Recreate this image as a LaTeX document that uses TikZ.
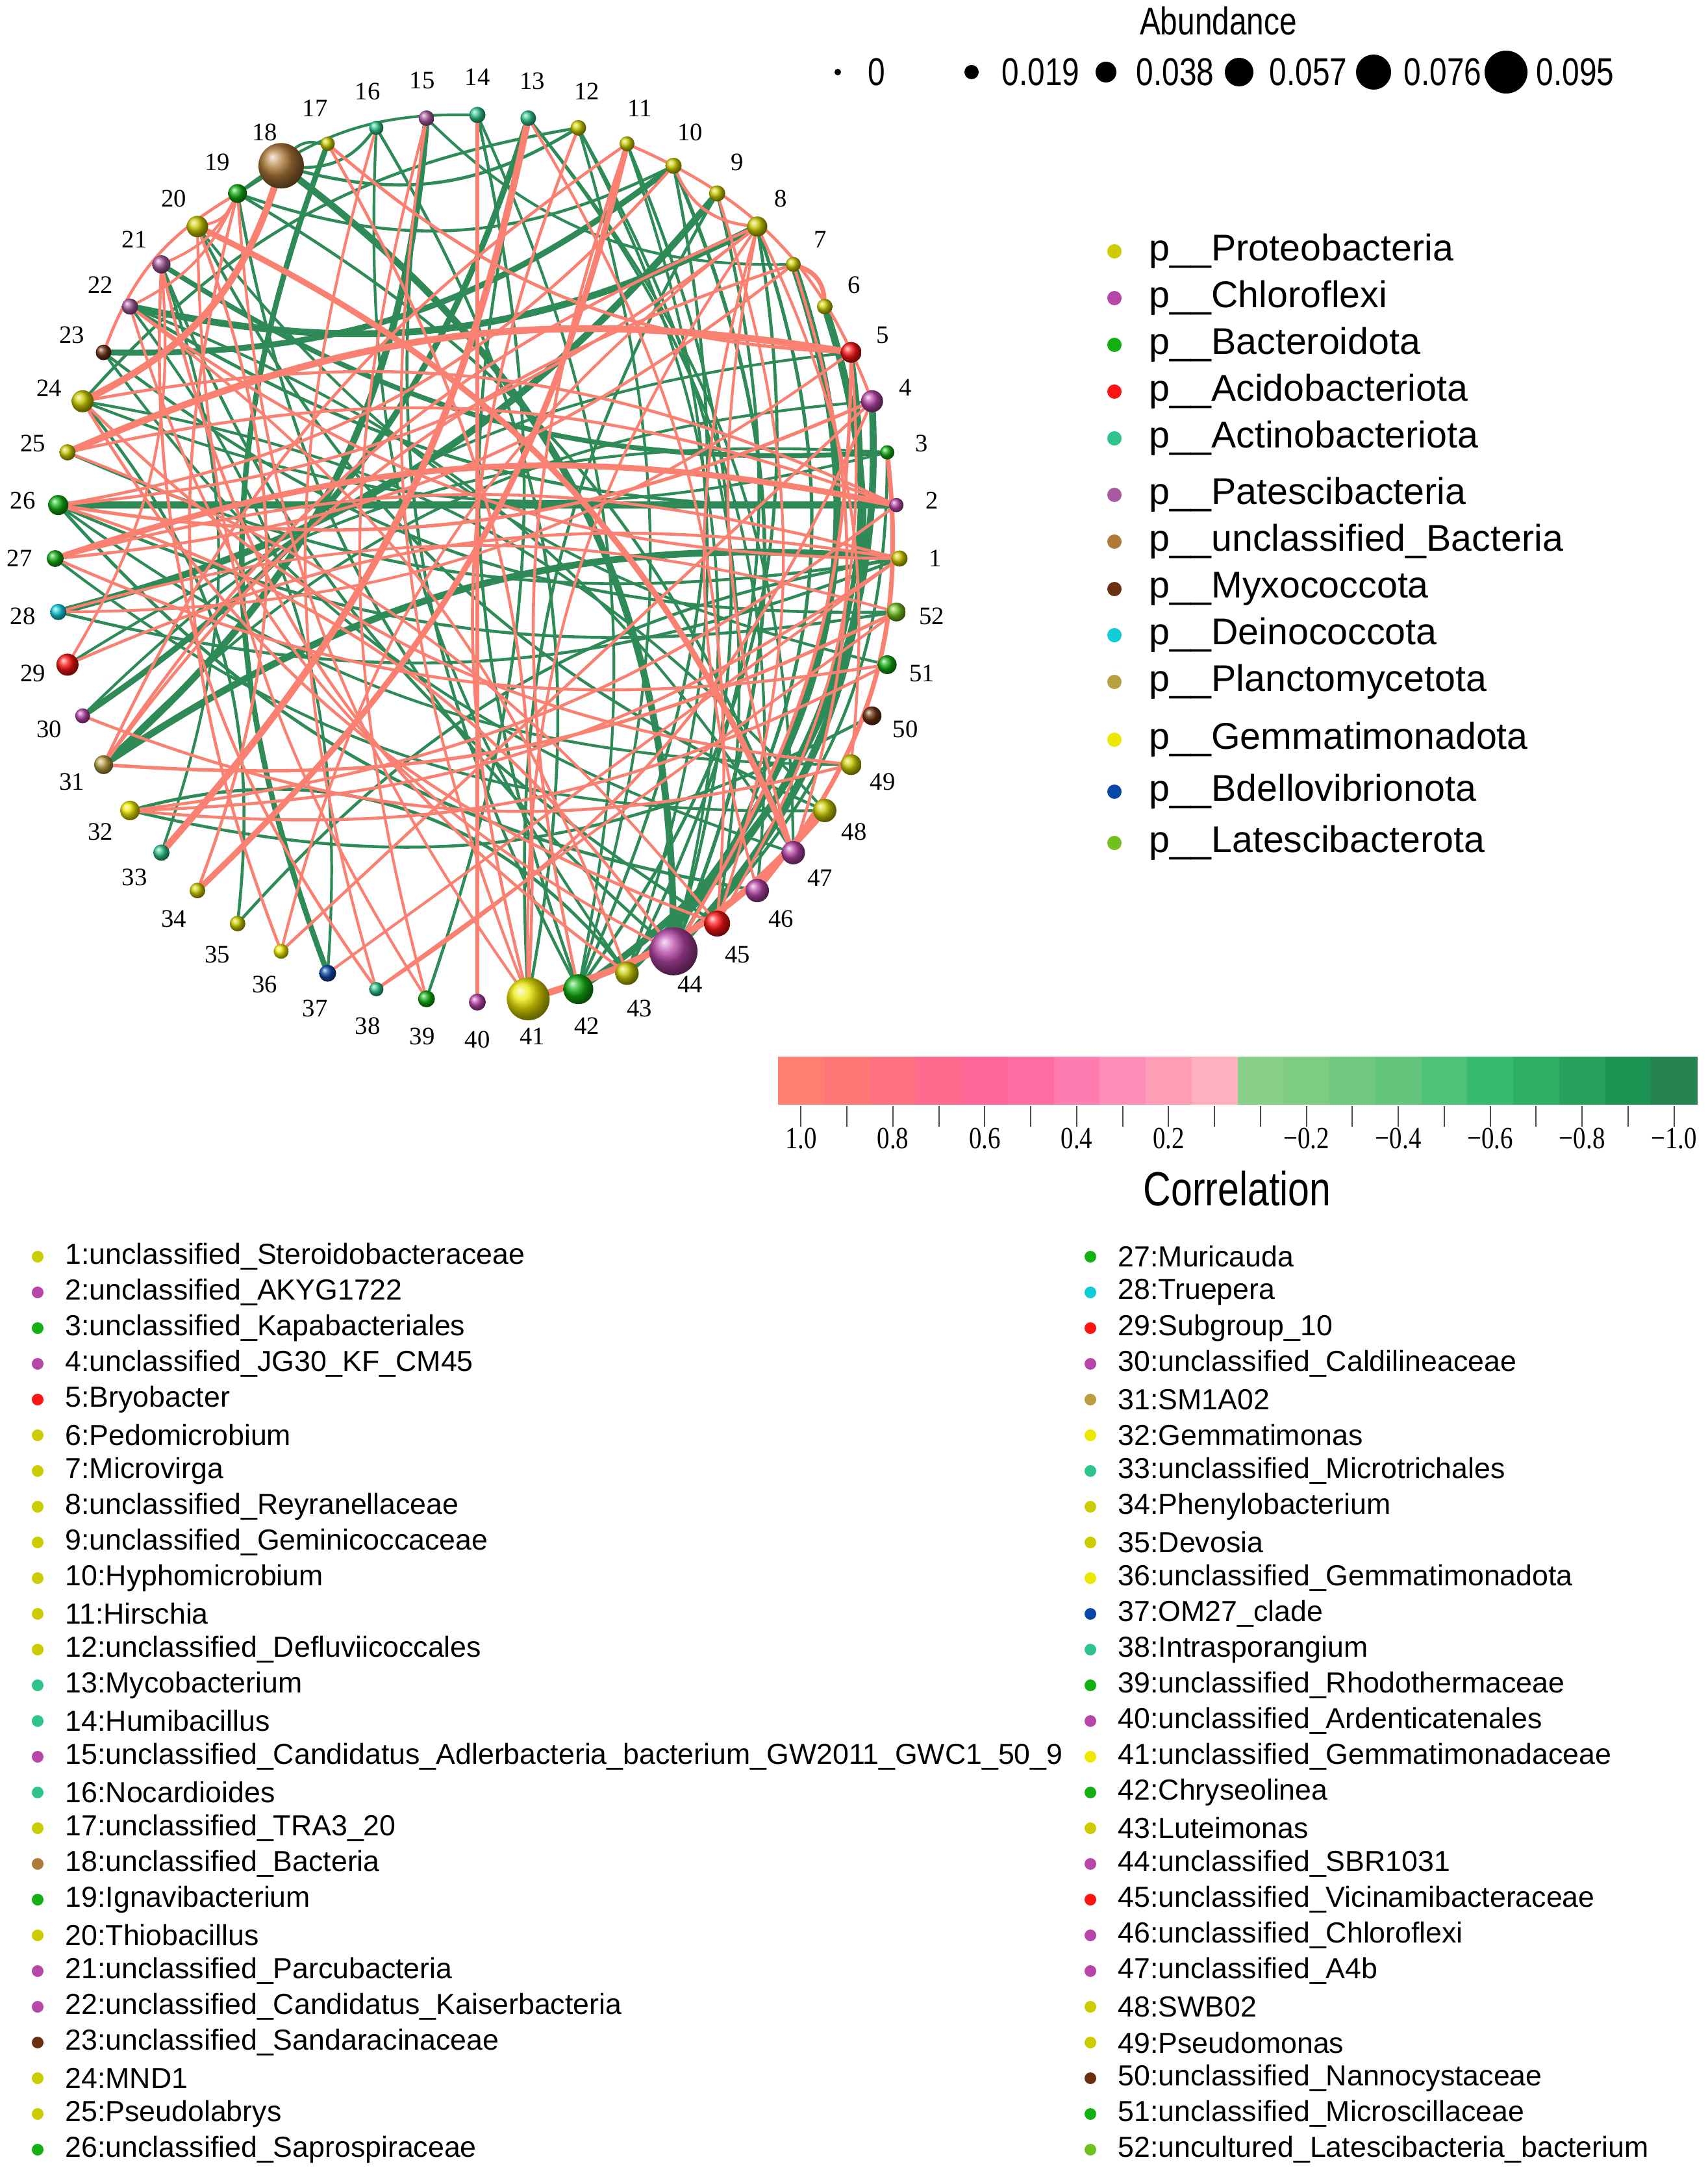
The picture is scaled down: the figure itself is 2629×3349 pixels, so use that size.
\documentclass[tikz,border=0pt]{standalone}
\usepackage{fontspec}
\setmainfont{Liberation Sans}
\newfontfamily\numfont{Liberation Serif}
\newfontfamily\narrowsans[FakeStretch=0.8]{Liberation Sans}
\newfontfamily\narrowserif[FakeStretch=0.82]{Liberation Serif}
\pgfdeclarelayer{edges}
\pgfsetlayers{edges,main}
\definecolor{proteo}{HTML}{CCCC00}
\definecolor{chloro}{HTML}{B845A8}
\definecolor{bactero}{HTML}{12B012}
\definecolor{acido}{HTML}{FF1414}
\definecolor{actino}{HTML}{2FC48C}
\definecolor{patesc}{HTML}{A85AA0}
\definecolor{unclbac}{HTML}{B07A38}
\definecolor{myxo}{HTML}{6A3010}
\definecolor{deino}{HTML}{10CCD8}
\definecolor{plancto}{HTML}{B8A040}
\definecolor{gemma}{HTML}{EEE800}
\definecolor{bdello}{HTML}{0A48A8}
\definecolor{latesc}{HTML}{72C020}
\definecolor{posline}{HTML}{FA8072}
\definecolor{negline}{HTML}{2E8B57}
\begin{document}
\begin{tikzpicture}[x=0.01cm,y=-0.01cm,
  taxon/.style={circle,inner sep=0pt},
  numlab/.style={inner sep=0pt,font=\numfont\fontsize{11}{11}\selectfont},
  posedge/.style={draw=posline,line cap=round},
  negedge/.style={draw=negline,line cap=round},
  listdot/.style={circle,inner sep=0pt,minimum size=0.18cm},
  listtxt/.style={anchor=west,inner sep=0pt,font=\fontsize{12.7}{14}\selectfont},
  legdot/.style={circle,inner sep=0pt,minimum size=0.22cm},
  legtxt/.style={anchor=west,inner sep=0pt,font=\fontsize{16.3}{18}\selectfont},
  sizedot/.style={circle,fill=black,inner sep=0pt},
  sizetxt/.style={anchor=west,inner sep=0pt,font=\narrowsans\fontsize{17}{18}\selectfont},
  ticklab/.style={inner sep=0pt,font=\narrowserif\fontsize{13.5}{14}\selectfont}]
\useasboundingbox (0,0) rectangle (2629,3349);

\foreach \i/\col/\rad in {1/proteo/12.5,2/chloro/11,3/bactero/11,4/chloro/17,5/acido/16,
  6/proteo/12,7/proteo/11.5,8/proteo/15.5,9/proteo/12.5,10/proteo/12.5,11/proteo/11.5,
  12/proteo/12,13/actino/12,14/actino/12.5,15/patesc/12,16/actino/11,17/proteo/11,
  18/unclbac/35,19/bactero/14.5,20/proteo/16.5,21/patesc/14,22/patesc/12.5,23/myxo/12,
  24/proteo/17,25/proteo/12.5,26/bactero/15.5,27/bactero/13,28/deino/12.5,29/acido/17,
  30/chloro/11.5,31/plancto/14.5,32/gemma/15,33/actino/12.5,34/proteo/12,35/proteo/12,
  36/gemma/11.5,37/bdello/13,38/actino/11,39/bactero/13,40/chloro/13,41/gemma/33,
  42/bactero/23,43/proteo/18,44/chloro/37,45/acido/20,46/chloro/18,47/chloro/18,
  48/proteo/18,49/proteo/16,50/myxo/14.5,51/bactero/14.5,52/latesc/14.5}{
  \pgfmathsetmacro\ang{(\i-1)*6.9230769}
  \pgfmathsetmacro\dia{0.02*\rad}
  \pgfmathsetmacro\px{735+650*cos(\ang)}
  \pgfmathsetmacro\py{860-683*sin(\ang)}
  \pgfmathsetmacro\lx{735+705*cos(\ang)}
  \pgfmathsetmacro\ly{860-741*sin(\ang)}
  \node[taxon,ball color=\col,minimum size=\dia cm] (n\i) at (\px,\py) {};
  \node[numlab] (lab\i) at (\lx,\ly) {\i};
}

\begin{pgfonlayer}{edges}
\foreach \src/\dst/\wd/\bnd in {7/43/3.2/28,6/44/3.2/26,4/42/3/24,5/43/2.2/22,8/42/1.4/15,
  26/2/3.2/0,22/8/3/-10,23/10/2.6/-10,21/3/2.2/-8,31/1/3/10,28/9/3/-8,30/13/2.6/-10,
  15/31/3/14,17/37/2.4/-12,18/44/3/20,18/16/1.3/-20,17/18/1.2/-20,19/18/1.4/0,
  12/18/1.4/15,10/19/1.3/15,12/44/1.2/12,12/45/1.2/10,13/47/1.2/10,13/46/1.2/14,
  12/42/1.2/6,10/42/1.3/8,9/41/1.3/-6,14/19/1.2/-10,14/42/1.2/8,15/7/1.2/-15,
  16/43/1.2/-10,11/43/1.2/10,24/12/1.3/10,25/1/1.3/-6,26/52/1.3/-6,26/49/1.2/-8,
  26/46/1.4/-10,27/48/1.2/-10,29/3/1.2/8,32/43/1.4/30,35/24/1.3/-15,35/1/1.3/10,
  33/21/1.2/-10,39/14/1.3/-5,42/15/1.3/8,42/13/1.3/6,47/19/1.3/-10,47/22/1.2/-8,
  48/24/1.2/-10,50/32/1.3/12,52/23/1.3/10,3/44/1.3/15,5/30/1.2/-10,4/31/1.2/-12,
  1/28/1.3/8,20/48/1.3/-10,21/45/1.3/-8,22/2/1.4/-6,24/3/1.2/-8,19/44/1.3/-10,
  16/41/1.3/12,10/44/1.6/15,8/44/1.5/18,9/43/1.3/12,11/44/1.3/10,23/47/1.2/-8,
  20/51/1.2/-10,37/22/1.2/-12}{
  \pgfmathsetmacro\bb{\bnd==0 ? 0 : sign(\bnd)*(abs(\bnd)*0.7+12)}
  \draw[negedge,line width=\wd pt] (n\src) to[bend left=\bb] (n\dst);
}
\foreach \src/\dst/\wd/\bnd in {14/40/1.8/0,25/5/3/6,27/2/2.6/4,18/24/3/15,41/48/3/-5,
  33/13/3/-4,11/34/2.6/6,20/47/2.6/12,19/20/1.2/20,21/19/1.2/-10,22/19/1.2/-10,
  7/6/2/30,10/8/1.3/-25,11/4/1.3/15,8/46/1.2/-5,8/47/1.2/-3,8/49/1.2/5,8/41/1.2/-8,
  8/36/1.2/-10,5/45/1.2/8,5/44/1.5/5,9/45/1.2/8,11/42/1.3/-5,12/41/1.3/-8,
  1/27/1.3/-4,1/29/1.3/-6,52/28/1.2/-5,2/25/1.3/-6,3/46/2/15,1/22/1.3/8,2/24/1.3/-8,
  26/10/1.3/-10,26/4/1.5/-6,23/19/1.3/10,24/45/1.3/-10,24/49/1.3/-10,22/44/1.2/-15,
  21/43/1.3/-12,21/38/1.3/-10,20/39/1.2/-5,19/36/1.3/-8,19/41/1.2/-5,17/5/1.4/-10,
  15/39/1.2/-4,31/7/1.3/8,31/8/1.3/6,31/11/1.3/4,31/52/1.5/-4,32/1/1.3/-6,
  32/2/1.3/-4,32/51/1.3/-6,34/20/1.3/-12,36/4/1.3/0,37/1/1.2/0,38/52/1.2/0,
  41/17/1.3/-6,43/22/1.2/-6,45/25/1.2/-4,47/7/1.3/-8,49/30/1.3/8,51/27/1.3/6,
  13/45/1.2/8,29/21/1.2/-8,44/26/1.3/-8,27/7/1.3/-6,28/5/1.2/-8,26/8/1.3/-6,
  16/38/1.2/-6,4/38/1.3/6,15/41/1.2/-4}{
  \pgfmathsetmacro\bb{\bnd==0 ? 0 : sign(\bnd)*(abs(\bnd)*0.7+12)}
  \draw[posedge,line width=\wd pt] (n\src) to[bend left=\bb] (n\dst);
}
\end{pgfonlayer}

\node[inner sep=0pt,font=\narrowsans\fontsize{17}{18}\selectfont] (abtitle) at (1876,32) {Abundance};
\foreach \x/\dd/\v [count=\k] in {1290/0.10/0,1496/0.22/0.019,1703/0.32/0.038,1908/0.44/0.057,2115/0.54/0.076,2319/0.66/0.095}{
  \node[sizedot,minimum size=\dd cm] (ab\k) at (\x,111) {};
  \node[sizetxt] (abv\k) at ({\x+46},111) {\v};
}

\foreach \y/\col/\name [count=\k] in {387/proteo/Proteobacteria,459/chloro/Chloroflexi,
  531/bactero/Bacteroidota,603/acido/Acidobacteriota,675/actino/Actinobacteriota,
  762/patesc/Patescibacteria,834/unclbac/unclassified\_Bacteria,907/myxo/Myxococcota,
  978/deino/Deinococcota,1050/plancto/Planctomycetota,1139/gemma/Gemmatimonadota,
  1219/bdello/Bdellovibrionota,1298/latesc/Latescibacterota}{
  \node[legdot,fill=\col] (ld\k) at (1716,\y) {};
  \node[legtxt] (lt\k) at (1769,\y) {p\_\_\name};
}

\foreach \k/\col in {1/FF7F70,2/FF7677,3/FF7082,4/FF6B8E,5/FF6699,6/FF6CA4,7/FF7CB0,
  8/FF8DB9,9/FF9DB6,10/FFB0BE,11/88D08A,12/7ECB84,13/70C780,14/63C47C,15/4EC277,
  16/36BB6E,17/2FAE66,18/28A05E,19/1C9352,20/24834E}{
  \definecolor{seg}{HTML}{\col}
  \fill[seg] ({1198+70.75*(\k-1)},1627) rectangle ++(71.5,74);
  \draw[line width=0.6pt,black!70] ({1198+70.75*(\k-0.5)},1703) -- ++(0,32);
}
\foreach \k/\v in {1/1.0,3/0.8,5/0.6,7/0.4,9/0.2,12/−0.2,14/−0.4,16/−0.6,18/−0.8,20/−1.0}
  \node[ticklab] (tl\k) at ({1198+70.75*(\k-0.5)},1753) {\v};
\node[inner sep=0pt,font=\narrowsans\fontsize{21}{22}\selectfont] (corr) at (1905,1830) {Correlation};

\foreach \i/\col/\name in {1/proteo/unclassified\_Steroidobacteraceae,2/chloro/unclassified\_AKYG1722,
  3/bactero/unclassified\_Kapabacteriales,4/chloro/unclassified\_JG30\_KF\_CM45,5/acido/Bryobacter,
  6/proteo/Pedomicrobium,7/proteo/Microvirga,8/proteo/unclassified\_Reyranellaceae,
  9/proteo/unclassified\_Geminicoccaceae,10/proteo/Hyphomicrobium,11/proteo/Hirschia,
  12/proteo/unclassified\_Defluviicoccales,13/actino/Mycobacterium,14/actino/Humibacillus,
  15/chloro/unclassified\_Candidatus\_Adlerbacteria\_bacterium\_GW2011\_GWC1\_50\_9,
  16/actino/Nocardioides,17/proteo/unclassified\_TRA3\_20,18/unclbac/unclassified\_Bacteria,
  19/bactero/Ignavibacterium,20/proteo/Thiobacillus,21/chloro/unclassified\_Parcubacteria,
  22/chloro/unclassified\_Candidatus\_Kaiserbacteria,23/myxo/unclassified\_Sandaracinaceae,
  24/proteo/MND1,25/proteo/Pseudolabrys,26/bactero/unclassified\_Saprospiraceae}{
  \node[listdot,fill=\col] (ldot\i) at (58,{1935+55*(\i-1)}) {};
  \node[listtxt] (ltxt\i) at (100,{1935+55*(\i-1)}) {\i:\name};
}
\foreach \i/\col/\name in {27/bactero/Muricauda,28/deino/Truepera,29/acido/Subgroup\_10,
  30/chloro/unclassified\_Caldilineaceae,31/plancto/SM1A02,32/gemma/Gemmatimonas,
  33/actino/unclassified\_Microtrichales,34/proteo/Phenylobacterium,35/proteo/Devosia,
  36/gemma/unclassified\_Gemmatimonadota,37/bdello/OM27\_clade,38/actino/Intrasporangium,
  39/bactero/unclassified\_Rhodothermaceae,40/chloro/unclassified\_Ardenticatenales,
  41/gemma/unclassified\_Gemmatimonadaceae,42/bactero/Chryseolinea,43/proteo/Luteimonas,
  44/chloro/unclassified\_SBR1031,45/acido/unclassified\_Vicinamibacteraceae,
  46/chloro/unclassified\_Chloroflexi,47/chloro/unclassified\_A4b,48/proteo/SWB02,
  49/proteo/Pseudomonas,50/myxo/unclassified\_Nannocystaceae,
  51/bactero/unclassified\_Microscillaceae,52/latesc/uncultured\_Latescibacteria\_bacterium}{
  \node[listdot,fill=\col] (ldot\i) at (1679,{1935+55*(\i-27)}) {};
  \node[listtxt] (ltxt\i) at (1721,{1935+55*(\i-27)}) {\i:\name};
}
\end{tikzpicture}
\end{document}
